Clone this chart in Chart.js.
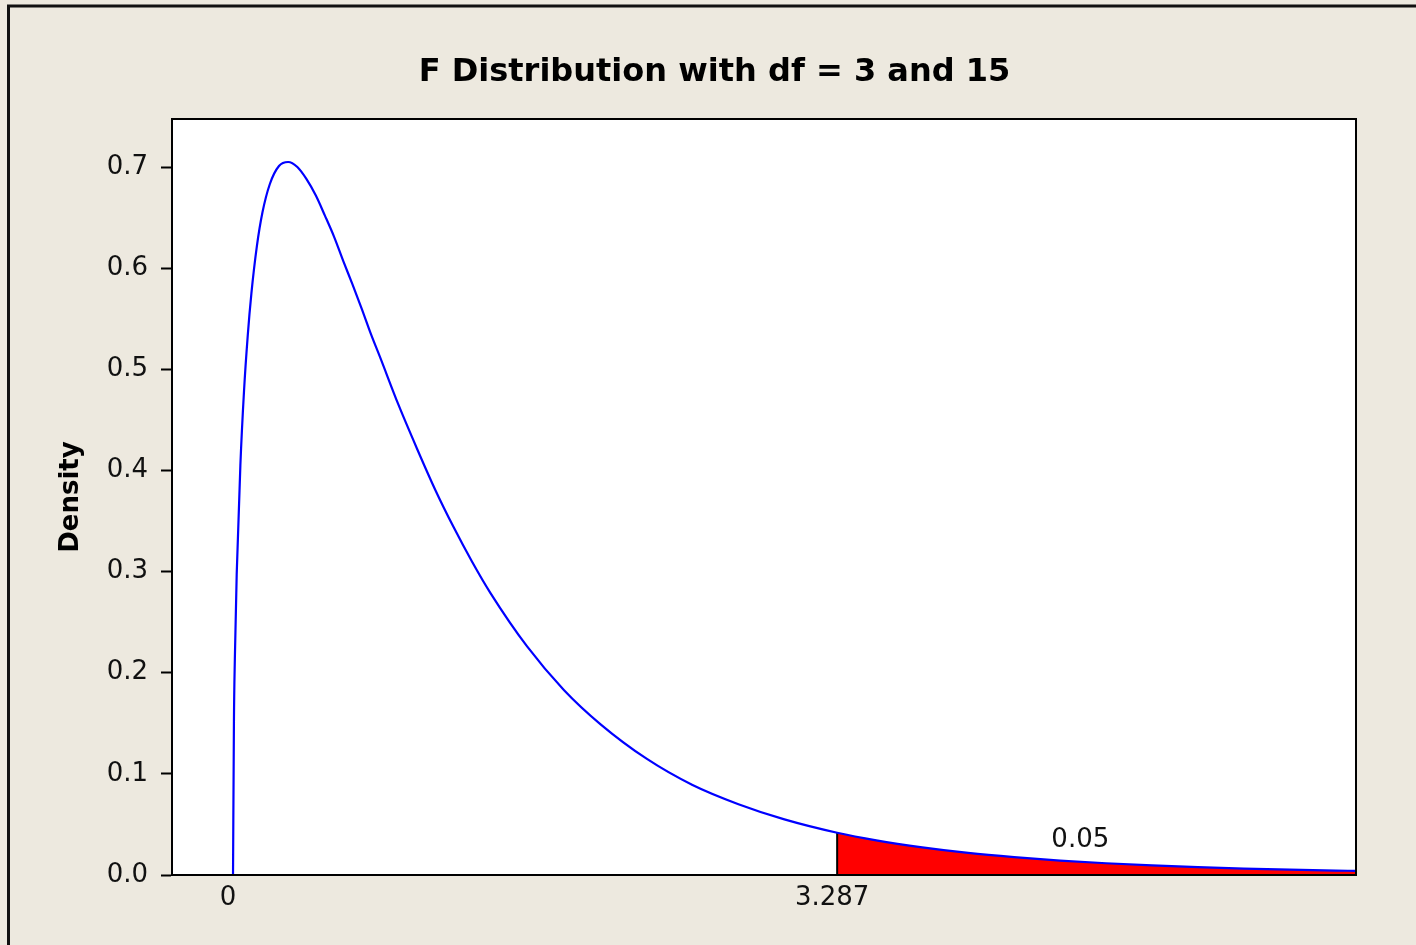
<!DOCTYPE html>
<html>
<head>
<meta charset="utf-8">
<title>F Distribution with df = 3 and 15</title>
<script src="https://cdn.jsdelivr.net/npm/chart.js@4.4.1/dist/chart.umd.min.js"></script>
<style>
  html, body { margin: 0; padding: 0; background: #EDE9DF; }
  #wrap { width: 1416px; height: 945px; }
</style>
</head>
<body>
<div id="wrap"><canvas id="c" width="1416" height="945"></canvas></div>
<script>
// F(3, 15) density curve, sampled along x
const fX = [0, 0.005, 0.01, 0.02, 0.04, 0.06, 0.08, 0.1, 0.13, 0.16, 0.2, 0.25, 0.3, 0.35, 0.4,
            0.45, 0.5, 0.55, 0.6, 0.65, 0.7, 0.75, 0.8, 0.9, 1.0, 1.1, 1.2, 1.3, 1.4, 1.6, 1.8, 2.0,
            2.25, 2.5, 2.75, 3.0, 3.287, 3.5, 3.75, 4.0, 4.25, 4.5, 4.75, 5.0, 5.25, 5.5, 5.75, 6.0, 6.11];
const fDensity = [0, 0.152, 0.214, 0.297, 0.405, 0.479, 0.533, 0.575, 0.622, 0.655, 0.683, 0.701, 0.705, 0.700, 0.688,
                  0.672, 0.652, 0.631, 0.607, 0.584, 0.560, 0.535, 0.512, 0.465, 0.422, 0.381, 0.344, 0.310, 0.279, 0.226, 0.183, 0.149,
                  0.115, 0.089, 0.070, 0.055, 0.0418, 0.0343, 0.0274, 0.0219, 0.0177, 0.0143, 0.0116, 0.0095, 0.0078, 0.0064, 0.0053, 0.0044, 0.0041];

// critical value and the upper-tail area beyond it
const critical = 3.287;
const tailArea = '0.05';
const tailLabelPos = { x: 4.61, y: 0.0346 };

// axis ticks
const xTickValues = [0, 3.287];
const xTickLabels = ['0', '3.287'];
const yTickValues = [0, 0.1, 0.2, 0.3, 0.4, 0.5, 0.6, 0.7];

const curve = fX.map((x, i) => ({ x: x, y: fDensity[i] }));
const tail = curve.filter(p => p.x >= critical);
const critIdx = fX.indexOf(critical);
const critLine = [{ x: critical, y: 0 }, { x: critical, y: fDensity[critIdx] }];

const FONT = "'DejaVu Sans', Verdana, sans-serif";

const framePlugin = {
  id: 'frame',
  beforeDraw(chart) {
    const ctx = chart.ctx;
    ctx.save();
    ctx.fillStyle = '#EDE9DF';
    ctx.fillRect(0, 0, chart.width, chart.height);
    // outer panel edge
    ctx.strokeStyle = '#111';
    ctx.lineWidth = 3;
    ctx.beginPath();
    ctx.moveTo(8.5, chart.height + 5);
    ctx.lineTo(8.5, 6);
    ctx.lineTo(chart.width + 5, 6);
    ctx.stroke();
    // plot background
    const a = chart.chartArea;
    ctx.fillStyle = '#FFFFFF';
    ctx.fillRect(a.left, a.top, a.right - a.left, a.bottom - a.top);
    ctx.restore();
  },
  afterDraw(chart) {
    const ctx = chart.ctx;
    const a = chart.chartArea;
    const xs = chart.scales.x, ys = chart.scales.y;
    ctx.save();
    ctx.strokeStyle = '#000';
    ctx.lineWidth = 2;
    ctx.strokeRect(a.left, a.top, a.right - a.left, a.bottom - a.top);
    // tail area annotation
    ctx.fillStyle = '#111';
    ctx.font = '26px ' + FONT;
    ctx.textAlign = 'center';
    ctx.textBaseline = 'middle';
    ctx.fillText(tailArea, xs.getPixelForValue(tailLabelPos.x), ys.getPixelForValue(tailLabelPos.y));
    ctx.restore();
  }
};

new Chart(document.getElementById('c'), {
  type: 'line',
  data: {
    datasets: [
      {
        label: 'Density',
        data: curve,
        borderColor: '#0000FF',
        borderWidth: 2.2,
        pointRadius: 0,
        fill: false,
        cubicInterpolationMode: 'monotone'
      },
      {
        label: 'Critical value',
        data: critLine,
        borderColor: '#000000',
        borderWidth: 2,
        pointRadius: 0,
        fill: false
      },
      {
        label: 'Upper tail',
        data: tail,
        borderWidth: 0,
        borderColor: 'rgba(0,0,0,0)',
        backgroundColor: '#FF0000',
        pointRadius: 0,
        fill: 'origin',
        cubicInterpolationMode: 'monotone'
      }
    ]
  },
  options: {
    responsive: false,
    animation: false,
    events: [],
    layout: { padding: { left: 73, right: 60, top: 0, bottom: 0 } },
    plugins: {
      legend: { display: false },
      tooltip: { enabled: false },
      title: {
        display: true,
        text: 'F Distribution with df = 3 and 15',
        color: '#000',
        font: { family: FONT, size: 32, weight: 'bold' },
        padding: { top: 53, bottom: 27.6 }
      }
    },
    scales: {
      x: {
        type: 'linear',
        min: -0.332,
        max: 6.11,
        afterFit(s) { s.height = 70; },
        afterBuildTicks(s) { s.ticks = xTickValues.map(v => ({ value: v })); },
        grid: { display: true, drawOnChartArea: false, drawTicks: false },
        border: { display: true, color: '#000', width: 2 },
        ticks: {
          autoSkip: false,
          maxRotation: 0,
          padding: 8,
          labelOffset: -5,
          color: '#111',
          font: { family: FONT, size: 26 },
          callback(v, i) { return xTickLabels[i]; }
        }
      },
      y: {
        type: 'linear',
        min: 0,
        max: 0.7475,
        afterFit(s) { s.width = 99; },
        afterBuildTicks(s) { s.ticks = yTickValues.map(v => ({ value: v })); },
        grid: { display: true, drawOnChartArea: false, drawTicks: true, tickLength: 11, tickWidth: 2, tickColor: '#000' },
        border: { display: true, color: '#000', width: 2 },
        title: {
          display: true,
          text: 'Density',
          color: '#000',
          font: { family: FONT, size: 26, weight: 'bold' },
          padding: { top: -17, bottom: 0 }
        },
        ticks: {
          padding: 13,
          color: '#111',
          font: { family: FONT, size: 26 },
          callback(v) { return v.toFixed(1); }
        }
      }
    }
  },
  plugins: [framePlugin]
});
</script>
</body>
</html>
